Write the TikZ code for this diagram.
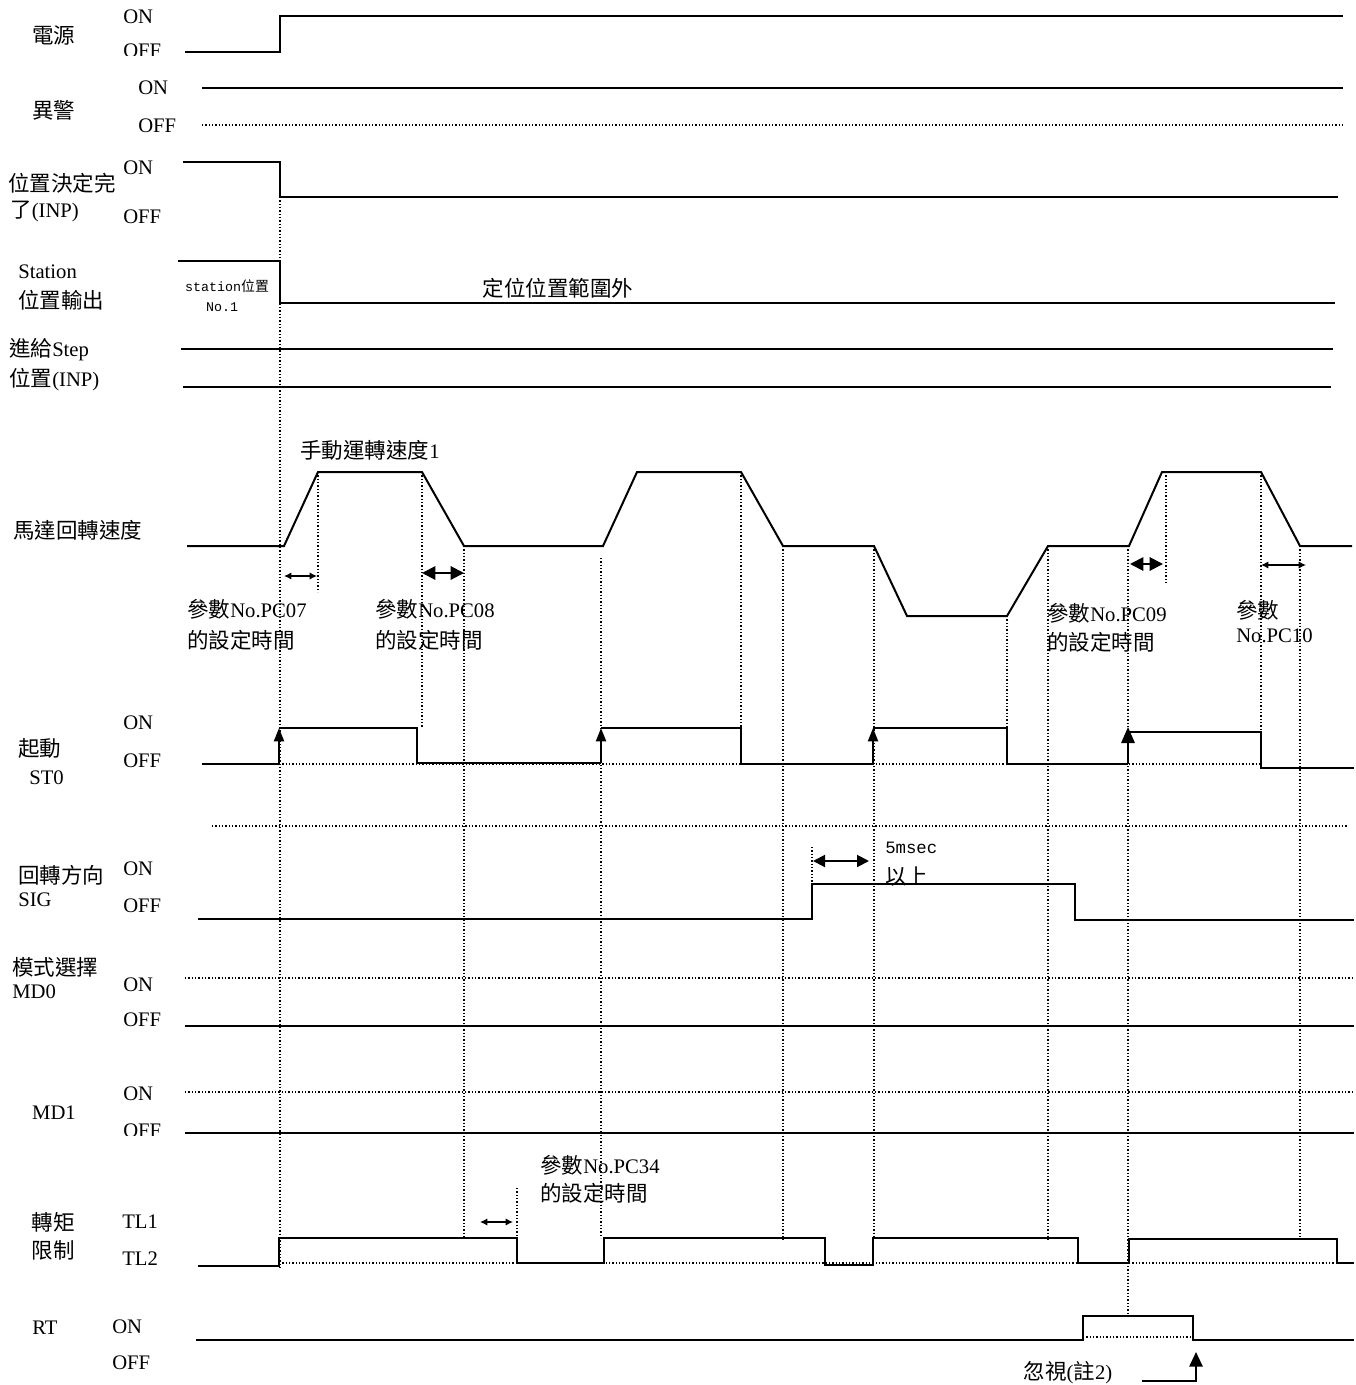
\documentclass[tikz,border=0pt]{standalone}
\usepackage{fontspec}
\setmainfont{Liberation Serif}
\newfontfamily\cjk{Noto Sans CJK TC}[Scale=1.04]
\newfontfamily\monof{Liberation Mono}
\usetikzlibrary{arrows.meta}

\begin{document}
\begin{tikzpicture}[x=0.75pt, y=-0.75pt,
    sig/.style={line width=1.5pt},
    grid/.style={line width=1pt, dash pattern=on 1.1pt off 1.4pt},
    lbl/.style={anchor=west, inner sep=0pt, font=\fontsize{15.5}{18}\selectfont},
    clbl/.style={lbl, anchor=center},
    small/.style={anchor=center, inner sep=0pt, font=\monof\fontsize{10}{12}\selectfont},
    span/.style={line width=1pt, {Latex[length=5.5pt,width=5.5pt]}-{Latex[length=5.5pt,width=5.5pt]}},
    spanb/.style={line width=1.5pt, {Triangle[length=10pt,width=10pt]}-{Triangle[length=10pt,width=10pt]}},
    rise/.style={sig, -{Triangle[length=10pt,width=7.5pt]}}
]
    \useasboundingbox (0,0) rectangle (1356,1385);

    % --- Power ---
    \node[clbl] (pwr)   at (54,35)  {\cjk 電源};
    \node[lbl]  (pwron) at (123,17) {ON};
    \begin{scope}
        \clip (100,0) rectangle (200,55);
        \node[lbl] (pwroff) at (123,51) {OFF};
    \end{scope}
    \draw[sig] (185,52) -- (280,52) -- (280,16) -- (1343,16);

    % --- Alarm ---
    \node[clbl] (alm)    at (54,110)  {\cjk 異警};
    \node[lbl]  (almon)  at (138,88)  {ON};
    \node[lbl]  (almoff) at (138,126) {OFF};
    \draw[sig]  (202,88)  -- (1343,88);
    \draw[grid] (202,125) -- (1343,125);

    % --- In position ---
    \node[lbl] (inp1)   at (8,183)   {\cjk 位置決定完};
    \node[lbl] (inp2)   at (10,211)  {{\cjk 了}(INP)};
    \node[lbl] (inpon)  at (123,168) {ON};
    \node[lbl] (inpoff) at (123,217) {OFF};
    \draw[sig] (183,162) -- (280,162) -- (280,197) -- (1338,197);

    % --- Station output ---
    \node[lbl]   (stn1)    at (18,272)  {Station};
    \node[lbl]   (stn2)    at (18,300)  {\cjk 位置輸出};
    \node[small] (stnpos1) at (227,286) {station{\cjk 位置}};
    \node[small] (stnpos2) at (222,307) {No.1};
    \node[clbl]  (stnout)  at (558,288) {\cjk 定位位置範圍外};
    \draw[sig] (178,261) -- (280,261) -- (280,303) -- (1335,303);

    % --- Step position ---
    \node[lbl] (step1) at (9,350) {{\cjk 進給}Step};
    \node[lbl] (step2) at (9,380) {{\cjk 位置}(INP)};
    \draw[sig] (181,349) -- (1333,349);
    \draw[sig] (183,387) -- (1331,387);

    % --- Motor speed ---
    \node[lbl]  (spd)    at (13,530)  {\cjk 馬達回轉速度};
    \node[clbl] (spdlbl) at (370,450) {{\cjk 手動運轉速度}1};
    \draw[sig] (187,546) -- (284,546) -- (318,472) -- (422,472) -- (464,546)
        -- (603,546) -- (637,472) -- (741,472) -- (783,546)
        -- (874,546) -- (907,616) -- (1007,616) -- (1048,546)
        -- (1129,546) -- (1162,472) -- (1261,472) -- (1300,546) -- (1352,546);
    \draw[span]  (284,576)  -- (317,576);
    \draw[spanb] (422,573)  -- (464,573);
    \draw[spanb] (1130,564) -- (1163,564);
    \draw[span]  (1261,565) -- (1306,565);
    \node[lbl] (pc07a) at (187,609)  {{\cjk 參數}No.PC07};
    \node[lbl] (pc07b) at (187,640)  {\cjk 的設定時間};
    \node[lbl] (pc08a) at (375,609)  {{\cjk 參數}No.PC08};
    \node[lbl] (pc08b) at (375,640)  {\cjk 的設定時間};
    \node[lbl] (pc09a) at (1047,613) {{\cjk 參數}No.PC09};
    \node[lbl] (pc09b) at (1047,642) {\cjk 的設定時間};
    \node[lbl] (pc10a) at (1236,610) {\cjk 參數};
    \node[lbl] (pc10b) at (1236,636) {No.PC10};

    % --- Start ST0 ---
    \node[lbl] (st)    at (18,748)  {\cjk 起動};
    \node[lbl] (st0)   at (29,778)  {ST0};
    \node[lbl] (ston)  at (123,723) {ON};
    \node[lbl] (stoff) at (123,761) {OFF};
    \draw[grid] (279,764) -- (1261,764);
    \draw[sig]  (202,764) -- (279,764);
    \draw[rise] (279,764) -- (279,728);
    \draw[sig]  (279,728) -- (417,728) -- (417,763) -- (601,763);
    \draw[rise] (601,763) -- (601,728);
    \draw[sig]  (601,728) -- (741,728) -- (741,764) -- (873,764);
    \draw[rise] (873,764) -- (873,728);
    \draw[sig]  (873,728) -- (1007,728) -- (1007,764) -- (1128,764);
    \draw[sig, -{Triangle[length=12pt,width=10pt]}] (1128,764) -- (1128,727);
    \draw[sig]  (1128,732) -- (1261,732) -- (1261,768) -- (1354,768);
    \draw[grid] (212,826) -- (1348,826);

    % --- Direction SIG ---
    \node[lbl] (dir)    at (18,875)  {\cjk 回轉方向};
    \node[lbl] (sig)    at (18,900)  {SIG};
    \node[lbl] (sigon)  at (123,869) {ON};
    \node[lbl] (sigoff) at (123,906) {OFF};
    \draw[sig] (198,919) -- (812,919) -- (812,884) -- (1075,884) -- (1075,920) -- (1354,920);
    \draw[line width=1.5pt, {Triangle[length=9pt,width=9pt]}-{Triangle[length=9pt,width=9pt]}] (813,861) -- (869,861);
    \node[lbl] (msec)  at (885,848) {\monof\fontsize{13}{15}\selectfont 5msec};
    \node[lbl] (msec2) at (885,877) {\cjk 以上};

    % --- Mode select ---
    \node[lbl] (md0a)   at (12,967)   {\cjk 模式選擇};
    \node[lbl] (md0b)   at (12,992)   {MD0};
    \node[lbl] (md0on)  at (123,985)  {ON};
    \node[lbl] (md0off) at (123,1020) {OFF};
    \draw[grid] (185,978)  -- (1354,978);
    \draw[sig]  (185,1026) -- (1354,1026);
    \node[clbl] (md1)   at (54,1113)  {MD1};
    \node[lbl]  (md1on) at (123,1094) {ON};
    \begin{scope}
        \clip (100,1100) rectangle (200,1135);
        \node[lbl] (md1off) at (123,1131) {OFF};
    \end{scope}
    \draw[grid] (185,1092) -- (1354,1092);
    \draw[sig]  (185,1133) -- (1354,1133);

    % --- Torque limit ---
    \node[lbl] (pc34a) at (540,1165) {{\cjk 參數}No.PC34};
    \node[lbl] (pc34b) at (540,1193) {\cjk 的設定時間};
    \node[clbl] (tla)  at (53,1222)  {\cjk 轉矩};
    \node[clbl] (tlb)  at (53,1250)  {\cjk 限制};
    \node[lbl]  (tl1)  at (122,1222) {TL1};
    \node[lbl]  (tl2)  at (122,1259) {TL2};
    \draw[grid] (279,1263) -- (1354,1263);
    \draw[sig] (198,1266) -- (279,1266) -- (279,1238) -- (517,1238) -- (517,1263)
        -- (604,1263) -- (604,1238) -- (825,1238) -- (825,1265) -- (873,1265)
        -- (873,1238) -- (1078,1238) -- (1078,1263) -- (1129,1263) -- (1129,1239)
        -- (1337,1239) -- (1337,1263) -- (1354,1263);
    \draw[span] (480,1222) -- (513,1222);

    % --- RT ---
    \node[clbl] (rt)    at (45,1328)  {RT};
    \node[lbl]  (rton)  at (112,1327) {ON};
    \node[lbl]  (rtoff) at (112,1363) {OFF};
    \draw[grid] (1083,1337) -- (1193,1337);
    \draw[sig] (196,1340) -- (1083,1340) -- (1083,1316) -- (1193,1316) -- (1193,1340) -- (1354,1340);
    \node[clbl] (ign) at (1068,1373) {{\cjk 忽視}({\cjk 註}2)};
    \draw[sig, -{Triangle[length=11pt,width=10pt]}] (1142,1381) -- (1196,1381) -- (1196,1352);

    % --- Timing guides ---
    \foreach \x/\ya/\yb in {280/197/1268, 318/472/592, 422/472/727, 464/546/1238,
        517/1188/1238, 601/558/1238, 741/472/763, 783/546/1240, 812/847/884,
        874/546/1238, 1007/616/728, 1048/546/1240, 1128/546/1313,
        1166/472/583, 1261/472/730, 1300/546/1240}
        \draw[grid] (\x,\ya) -- (\x,\yb);
\end{tikzpicture}
\end{document}
